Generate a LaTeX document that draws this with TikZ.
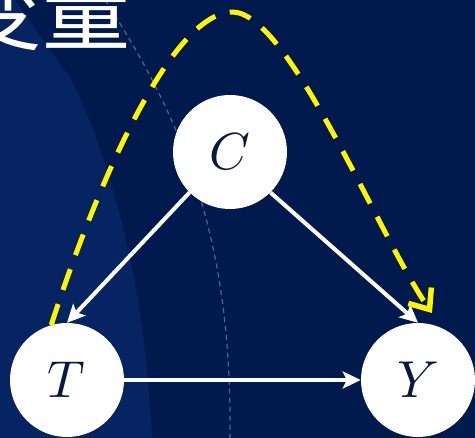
\documentclass[tikz,border=0pt]{standalone}
\usepackage{fontspec}
\usepackage{unicode-math}
\setmathfont{Latin Modern Math}
\newfontfamily\cjk{Noto Sans CJK SC}
\usetikzlibrary{arrows.meta}
\definecolor{bgnavy}{RGB}{1,26,78}
\definecolor{bglight}{RGB}{6,35,98}
\definecolor{arcline}{RGB}{70,105,140}
\definecolor{letter}{RGB}{8,24,64}
\definecolor{pathyellow}{RGB}{255,245,0}
\tikzset{
  varnode/.style={circle, fill=white, draw=none, minimum size=114pt, inner sep=0pt,
    text=letter, font=\fontsize{52}{52}\selectfont},
  causal/.style={draw=white, line width=4pt,
    -{Stealth[length=18pt, width=17pt, inset=4pt]}},
  backdoor/.style={draw=pathyellow, line width=5pt, dash pattern=on 22pt off 15pt,
    -{Straight Barb[length=17pt, width=28pt, line width=5.5pt]}},
}
\begin{document}
\begin{tikzpicture}[x=1pt,y=-1pt]
\useasboundingbox (0,0) rectangle (475,438);
\fill[bgnavy] (0,0) rectangle (475,438);
% lighter textured region on the left
\fill[bglight] (15,0) .. controls (30,20) and (45,45) .. (67,73)
  .. controls (95,120) and (125,220) .. (138,300)
  .. controls (146,350) and (150,400) .. (152,438) -- (0,438) -- (0,0) -- cycle;
% faint dashed arc
\draw[arcline, line width=1.2pt, dash pattern=on 5pt off 4pt]
  (105,0) .. controls (190,130) and (232,250) .. (230,438);
% partial title
\node[anchor=base east, text=white, inner sep=0pt, font=\cjk\fontsize{88}{88}\selectfont]
  (title) at (131,44) {变量};
% nodes
\node[varnode] (C) at (230,152) {$C$};
\node[varnode] (T) at (67,380) {$T$};
\node[varnode] (Y) at (418,380) {$Y$};
% causal arrows
\draw[causal] (C.225) -- (T.90);
\draw[causal] (C.315) -- (Y.90);
\draw[causal] (T.east) -- (Y.west);
% backdoor path
\coordinate (peak) at (233,12);
\coordinate (yend) at (432,313);
\draw[backdoor] (T.106) .. controls (95,190) and (170,12) .. (peak)
  .. controls (290,14) and (378,235) .. (yend);
\end{tikzpicture}
\end{document}
